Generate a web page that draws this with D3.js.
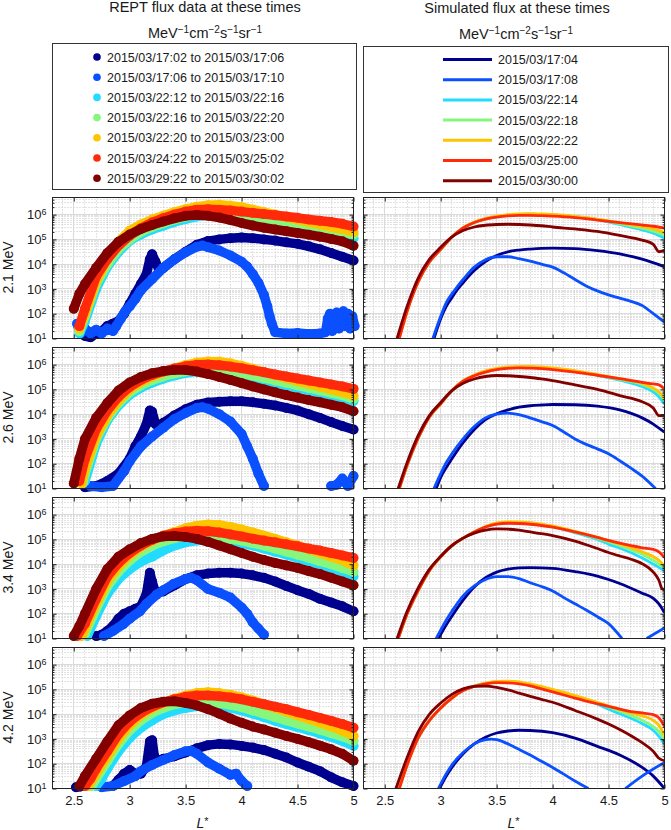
<!DOCTYPE html>
<html><head><meta charset="utf-8">
<script src="https://cdn.jsdelivr.net/npm/d3@7"></script>
<style>body{margin:0;background:#fff} text{font-family:"Liberation Sans",Arial,Helvetica,sans-serif;fill:#1a1a1a}</style>
</head><body><svg id="c" width="671" height="830"></svg>
<script>
// ---------------- data ----------------
const energies = ["2.1 MeV","2.6 MeV","3.4 MeV","4.2 MeV"];
const reptTimes = ["2015/03/17:02 to 2015/03/17:06","2015/03/17:06 to 2015/03/17:10","2015/03/22:12 to 2015/03/22:16",
  "2015/03/22:16 to 2015/03/22:20","2015/03/22:20 to 2015/03/23:00","2015/03/24:22 to 2015/03/25:02","2015/03/29:22 to 2015/03/30:02"];
const simTimes = ["2015/03/17:04","2015/03/17:08","2015/03/22:14","2015/03/22:18","2015/03/22:22","2015/03/25:00","2015/03/30:00"];
const seriesColors = ["#00008f","#0a50ff","#22dcff","#86f77c","#ffc400","#ff2a0a","#820000"];
const xTicks = [2.5,3,3.5,4,4.5,5];
const yTickExps = [1,2,3,4,5,6];

// REPT flux, [L*, log10 flux]; order: dark blue, blue, cyan, green, yellow, red, dark red
const rept21 = [
 [[2.6,1.1],[2.65,1.05],[2.7,1.2],[2.75,1.3],[2.8,1.5],[2.85,1.6],[2.9,1.7],[2.95,2.0],[3.0,2.4],[3.05,2.8],[3.1,3.2],[3.15,3.6],[3.18,4.2],[3.2,4.4],[3.23,4.1],[3.26,3.8],[3.3,3.85],[3.4,4.2],[3.5,4.5],[3.6,4.78],[3.7,4.93],[3.8,5.0],[3.9,5.05],[4.0,5.08],[4.1,5.05],[4.2,5.0],[4.3,4.95],[4.4,4.88],[4.5,4.82],[4.6,4.72],[4.7,4.6],[4.8,4.45],[4.9,4.3],[5.0,4.15]],
 [[2.53,1.6],[2.56,1.2],[2.6,1.4],[2.65,1.2],[2.7,1.35],[2.75,1.2],[2.8,1.4],[2.85,1.3],[2.88,1.5],[2.92,1.8],[2.96,2.1],[3.0,2.3],[3.05,2.6],[3.1,2.95],[3.2,3.4],[3.3,3.85],[3.4,4.2],[3.5,4.48],[3.6,4.7],[3.65,4.75],[3.7,4.68],[3.8,4.55],[3.9,4.35],[4.0,4.1],[4.05,3.9],[4.1,3.6],[4.15,3.25],[4.2,2.75],[4.23,2.3],[4.25,1.9],[4.27,1.6],[4.3,1.25],[4.4,1.2],[4.5,1.22],[4.6,1.18],[4.7,1.2],[4.75,1.25],[4.77,1.8],[4.79,2.0],[4.81,1.3],[4.83,1.9],[4.85,2.05],[4.87,1.4],[4.89,1.9],[4.91,2.1],[4.93,1.5],[4.95,2.0],[4.97,1.4],[4.99,1.9],[5.01,1.5]],
 [[2.55,1.2],[2.6,1.7],[2.7,3.0],[2.8,3.9],[2.9,4.5],[3.0,4.95],[3.1,5.2],[3.2,5.4],[3.3,5.55],[3.4,5.7],[3.5,5.82],[3.6,5.92],[3.7,5.98],[3.8,6.0],[3.9,5.97],[4.0,5.9],[4.1,5.82],[4.2,5.73],[4.3,5.63],[4.4,5.55],[4.5,5.47],[4.6,5.4],[4.7,5.33],[4.8,5.25],[4.9,5.17],[5.0,5.05]],
 [[2.55,1.3],[2.6,1.9],[2.7,3.2],[2.8,4.0],[2.9,4.6],[3.0,5.0],[3.1,5.3],[3.2,5.5],[3.3,5.65],[3.4,5.8],[3.5,5.92],[3.6,6.0],[3.7,6.05],[3.8,6.05],[3.9,6.0],[4.0,5.95],[4.1,5.9],[4.2,5.83],[4.3,5.75],[4.4,5.68],[4.5,5.6],[4.6,5.52],[4.7,5.45],[4.8,5.38],[4.9,5.3],[5.0,5.2]],
 [[2.55,1.4],[2.6,2.0],[2.7,3.3],[2.8,4.2],[2.9,4.9],[3.0,5.35],[3.1,5.6],[3.2,5.8],[3.3,5.95],[3.4,6.1],[3.5,6.22],[3.6,6.32],[3.7,6.38],[3.8,6.4],[3.9,6.36],[4.0,6.3],[4.1,6.2],[4.2,6.1],[4.3,6.0],[4.4,5.9],[4.5,5.8],[4.6,5.7],[4.7,5.6],[4.8,5.5],[4.9,5.42],[5.0,5.3]],
 [[2.55,1.5],[2.6,2.2],[2.7,3.5],[2.8,4.2],[2.9,4.75],[3.0,5.15],[3.1,5.45],[3.2,5.68],[3.3,5.85],[3.4,6.0],[3.5,6.12],[3.6,6.2],[3.7,6.22],[3.8,6.2],[3.9,6.17],[4.0,6.12],[4.1,6.07],[4.2,6.02],[4.3,5.97],[4.4,5.92],[4.5,5.87],[4.6,5.8],[4.7,5.75],[4.8,5.7],[4.9,5.63],[5.0,5.52]],
 [[2.5,2.2],[2.55,2.8],[2.6,3.2],[2.7,3.85],[2.8,4.45],[2.9,4.9],[3.0,5.2],[3.1,5.42],[3.2,5.58],[3.3,5.72],[3.4,5.85],[3.5,5.95],[3.6,5.98],[3.7,5.95],[3.8,5.88],[3.9,5.78],[4.0,5.66],[4.1,5.56],[4.2,5.47],[4.3,5.4],[4.4,5.33],[4.5,5.26],[4.6,5.19],[4.7,5.11],[4.8,5.02],[4.9,4.92],[5.0,4.74]]
];
const rept26 = [
 [[2.6,1.05],[2.7,1.1],[2.8,1.3],[2.9,1.6],[3.0,2.2],[3.05,2.7],[3.1,3.1],[3.15,3.6],[3.18,4.15],[3.2,4.1],[3.23,3.6],[3.26,3.5],[3.3,3.65],[3.4,3.95],[3.5,4.2],[3.6,4.38],[3.7,4.47],[3.8,4.5],[3.9,4.52],[4.0,4.52],[4.1,4.48],[4.2,4.42],[4.3,4.35],[4.4,4.25],[4.5,4.15],[4.6,4.0],[4.7,3.85],[4.8,3.68],[4.9,3.52],[5.0,3.38]],
 [[2.65,1.1],[2.75,1.05],[2.85,1.1],[2.95,1.7],[3.0,2.1],[3.1,2.7],[3.2,3.1],[3.3,3.45],[3.4,3.8],[3.5,4.05],[3.6,4.25],[3.65,4.28],[3.7,4.22],[3.8,4.0],[3.9,3.7],[4.0,3.2],[4.05,2.7],[4.1,2.2],[4.15,1.6],[4.2,1.1],null,[4.8,1.1],[4.85,1.15],[4.9,1.4],[4.95,1.1],[5.0,1.5]],
 [[2.6,1.3],[2.7,2.8],[2.8,3.75],[2.9,4.35],[3.0,4.78],[3.1,5.07],[3.2,5.27],[3.3,5.43],[3.4,5.56],[3.5,5.66],[3.6,5.72],[3.7,5.75],[3.8,5.72],[3.9,5.65],[4.0,5.57],[4.1,5.47],[4.2,5.37],[4.3,5.27],[4.4,5.17],[4.5,5.07],[4.6,4.97],[4.7,4.87],[4.8,4.77],[4.9,4.67],[5.0,4.53]],
 [[2.58,1.2],[2.6,1.6],[2.7,3.0],[2.8,3.85],[2.9,4.45],[3.0,4.88],[3.1,5.17],[3.2,5.37],[3.3,5.52],[3.4,5.64],[3.5,5.73],[3.6,5.79],[3.7,5.81],[3.8,5.79],[3.9,5.73],[4.0,5.65],[4.1,5.56],[4.2,5.46],[4.3,5.36],[4.4,5.26],[4.5,5.16],[4.6,5.06],[4.7,4.96],[4.8,4.86],[4.9,4.76],[5.0,4.62]],
 [[2.57,1.2],[2.6,1.8],[2.7,3.1],[2.8,3.95],[2.9,4.55],[3.0,5.0],[3.1,5.3],[3.2,5.52],[3.3,5.7],[3.4,5.85],[3.5,5.98],[3.6,6.08],[3.7,6.13],[3.8,6.12],[3.9,6.05],[4.0,5.95],[4.1,5.83],[4.2,5.7],[4.3,5.57],[4.4,5.45],[4.5,5.33],[4.6,5.22],[4.7,5.11],[4.8,5.0],[4.9,4.89],[5.0,4.75]],
 [[2.55,1.3],[2.6,2.2],[2.7,3.4],[2.8,4.15],[2.9,4.7],[3.0,5.1],[3.1,5.38],[3.2,5.58],[3.3,5.72],[3.4,5.84],[3.5,5.93],[3.6,5.99],[3.7,6.0],[3.8,5.97],[3.9,5.92],[4.0,5.85],[4.1,5.77],[4.2,5.69],[4.3,5.6],[4.4,5.52],[4.5,5.44],[4.6,5.36],[4.7,5.28],[4.8,5.2],[4.9,5.12],[5.0,5.02]],
 [[2.5,1.2],[2.55,2.2],[2.6,3.0],[2.7,3.85],[2.8,4.45],[2.9,4.95],[3.0,5.28],[3.1,5.5],[3.2,5.65],[3.3,5.74],[3.4,5.78],[3.5,5.78],[3.6,5.72],[3.7,5.62],[3.8,5.5],[3.9,5.38],[4.0,5.25],[4.1,5.12],[4.2,5.0],[4.3,4.88],[4.4,4.77],[4.5,4.67],[4.6,4.57],[4.7,4.48],[4.8,4.38],[4.9,4.28],[5.0,4.12]]
];
const rept34 = [
 [[2.7,1.1],[2.75,1.15],[2.8,1.3],[2.85,1.5],[2.9,1.8],[2.95,2.0],[3.0,2.1],[3.05,2.2],[3.1,2.3],[3.15,2.8],[3.18,3.65],[3.2,3.3],[3.23,2.85],[3.3,2.9],[3.4,3.15],[3.5,3.4],[3.6,3.55],[3.7,3.62],[3.8,3.65],[3.9,3.65],[4.0,3.62],[4.1,3.55],[4.2,3.45],[4.3,3.3],[4.4,3.12],[4.5,2.95],[4.6,2.8],[4.7,2.6],[4.8,2.45],[4.9,2.3],[5.0,2.1]],
 [[2.77,1.1],[2.85,1.3],[2.94,1.57],[3.0,1.8],[3.09,2.09],[3.15,2.4],[3.24,2.77],[3.3,2.95],[3.39,3.2],[3.5,3.4],[3.55,3.45],[3.6,3.35],[3.7,3.0],[3.8,2.85],[3.9,2.65],[4.0,2.25],[4.05,2.0],[4.1,1.65],[4.15,1.4],[4.2,1.15]],
 [[2.62,1.1],[2.7,1.9],[2.8,2.8],[2.9,3.4],[3.0,3.8],[3.1,4.1],[3.2,4.3],[3.3,4.55],[3.4,4.75],[3.5,4.88],[3.6,4.95],[3.7,4.98],[3.8,4.97],[3.9,4.92],[4.0,4.85],[4.1,4.75],[4.2,4.63],[4.3,4.5],[4.4,4.38],[4.5,4.25],[4.6,4.12],[4.7,4.0],[4.8,3.85],[4.9,3.7],[5.0,3.5]],
 [[2.6,1.2],[2.7,2.2],[2.8,3.1],[2.9,3.7],[3.0,4.15],[3.1,4.5],[3.2,4.75],[3.3,4.92],[3.4,5.05],[3.5,5.12],[3.6,5.15],[3.7,5.15],[3.8,5.1],[3.9,5.02],[4.0,4.95],[4.1,4.85],[4.2,4.75],[4.3,4.62],[4.4,4.5],[4.5,4.38],[4.6,4.26],[4.7,4.12],[4.8,4.0],[4.9,3.85],[5.0,3.7]],
 [[2.57,1.1],[2.6,1.4],[2.7,2.4],[2.8,3.3],[2.9,3.9],[3.0,4.35],[3.1,4.7],[3.2,4.95],[3.3,5.15],[3.4,5.3],[3.5,5.45],[3.6,5.55],[3.7,5.6],[3.8,5.58],[3.9,5.5],[4.0,5.4],[4.1,5.28],[4.2,5.15],[4.3,5.02],[4.4,4.88],[4.5,4.75],[4.6,4.6],[4.7,4.45],[4.8,4.3],[4.9,4.15],[5.0,3.95]],
 [[2.53,1.1],[2.6,1.6],[2.7,2.6],[2.8,3.5],[2.9,4.05],[3.0,4.45],[3.1,4.75],[3.2,4.98],[3.3,5.15],[3.4,5.25],[3.5,5.32],[3.6,5.35],[3.7,5.33],[3.8,5.28],[3.9,5.2],[4.0,5.12],[4.1,5.03],[4.2,4.95],[4.3,4.88],[4.4,4.8],[4.5,4.72],[4.6,4.63],[4.7,4.55],[4.8,4.45],[4.9,4.35],[5.0,4.25]],
 [[2.5,1.1],[2.55,1.5],[2.6,2.0],[2.7,3.0],[2.8,3.8],[2.9,4.3],[3.0,4.6],[3.1,4.85],[3.2,5.02],[3.3,5.12],[3.4,5.14],[3.5,5.1],[3.6,5.02],[3.7,4.9],[3.8,4.75],[3.9,4.6],[4.0,4.45],[4.1,4.3],[4.2,4.17],[4.3,4.05],[4.4,3.95],[4.5,3.85],[4.6,3.72],[4.7,3.6],[4.8,3.45],[4.9,3.3],[5.0,3.15]]
];
const rept42 = [
 [[2.52,1.05],[2.56,1.08],null,[2.85,1.1],[2.9,1.35],[2.95,1.6],[3.0,1.75],[3.05,1.6],[3.1,1.6],[3.15,1.9],[3.18,2.9],[3.2,2.95],[3.22,2.3],[3.25,2.1],[3.3,2.2],[3.4,2.3],[3.5,2.45],[3.6,2.62],[3.7,2.75],[3.8,2.8],[3.9,2.78],[4.0,2.72],[4.1,2.65],[4.2,2.55],[4.3,2.4],[4.4,2.25],[4.5,2.05],[4.6,1.88],[4.7,1.7],[4.8,1.45],[4.9,1.25],[5.0,1.1]],
 [[2.75,1.05],[2.85,1.1],[2.95,1.3],[3.05,1.5],[3.1,1.7],[3.2,1.95],[3.3,2.15],[3.4,2.35],[3.5,2.5],[3.55,2.52],[3.6,2.4],[3.7,2.05],[3.8,1.8],[3.9,1.55],[3.95,1.6],[4.0,1.3],[4.05,1.1]],
 [[2.7,1.1],[2.75,1.4],[2.8,1.8],[2.9,2.5],[3.0,3.05],[3.1,3.45],[3.2,3.75],[3.3,4.0],[3.4,4.15],[3.5,4.25],[3.6,4.32],[3.7,4.35],[3.8,4.32],[3.9,4.25],[4.0,4.15],[4.1,4.02],[4.2,3.88],[4.3,3.73],[4.4,3.6],[4.5,3.47],[4.6,3.35],[4.7,3.22],[4.8,3.08],[4.9,2.92],[5.0,2.72]],
 [[2.66,1.1],[2.7,1.4],[2.8,2.1],[2.9,2.8],[3.0,3.35],[3.1,3.75],[3.2,4.05],[3.3,4.25],[3.4,4.4],[3.5,4.48],[3.6,4.5],[3.7,4.5],[3.8,4.45],[3.9,4.38],[4.0,4.28],[4.1,4.15],[4.2,4.02],[4.3,3.88],[4.4,3.75],[4.5,3.62],[4.6,3.5],[4.7,3.37],[4.8,3.23],[4.9,3.1],[5.0,2.92]],
 [[2.63,1.1],[2.7,1.6],[2.8,2.3],[2.9,3.0],[3.0,3.55],[3.1,3.95],[3.2,4.25],[3.3,4.45],[3.4,4.62],[3.5,4.75],[3.6,4.85],[3.7,4.88],[3.8,4.85],[3.9,4.78],[4.0,4.68],[4.1,4.55],[4.2,4.4],[4.3,4.25],[4.4,4.1],[4.5,3.95],[4.6,3.8],[4.7,3.65],[4.8,3.5],[4.9,3.33],[5.0,3.12]],
 [[2.6,1.1],[2.65,1.4],[2.7,1.8],[2.8,2.5],[2.9,3.2],[3.0,3.7],[3.1,4.05],[3.2,4.3],[3.3,4.48],[3.4,4.6],[3.5,4.7],[3.6,4.75],[3.7,4.75],[3.8,4.72],[3.9,4.67],[4.0,4.6],[4.1,4.5],[4.2,4.4],[4.3,4.3],[4.4,4.2],[4.5,4.08],[4.6,3.97],[4.7,3.85],[4.8,3.73],[4.9,3.6],[5.0,3.45]],
 [[2.55,1.1],[2.6,1.5],[2.7,2.2],[2.8,2.9],[2.9,3.55],[3.0,3.95],[3.1,4.25],[3.2,4.42],[3.3,4.5],[3.4,4.52],[3.5,4.45],[3.6,4.35],[3.7,4.2],[3.8,4.02],[3.9,3.82],[4.0,3.65],[4.1,3.5],[4.2,3.38],[4.3,3.25],[4.4,3.12],[4.5,3.0],[4.6,2.87],[4.7,2.73],[4.8,2.58],[4.9,2.4],[5.0,2.12]]
];

// Simulated flux, [L*, log10 flux]
const sim21 = [
 [[2.94,1.0],[3.0,1.8],[3.05,2.3],[3.1,2.65],[3.15,2.98],[3.2,3.25],[3.3,3.74],[3.4,4.1],[3.5,4.35],[3.6,4.5],[3.7,4.57],[3.8,4.61],[3.9,4.64],[4.0,4.65],[4.2,4.63],[4.4,4.55],[4.6,4.42],[4.8,4.2],[5.0,3.9]],
 [[2.93,1.0],[3.0,1.9],[3.05,2.45],[3.1,2.8],[3.15,3.1],[3.2,3.38],[3.3,3.88],[3.4,4.18],[3.5,4.3],[3.6,4.3],[3.7,4.22],[3.8,4.12],[3.9,4.0],[4.0,3.88],[4.1,3.65],[4.2,3.38],[4.3,3.12],[4.4,2.92],[4.5,2.76],[4.6,2.63],[4.7,2.5],[4.8,2.33],[4.9,2.0],[5.0,1.66]],
 [[2.62,1.0],[2.7,2.15],[2.8,3.3],[2.9,4.1],[3.0,4.6],[3.1,5.1],[3.2,5.45],[3.3,5.68],[3.4,5.83],[3.5,5.92],[3.6,5.98],[3.7,6.01],[3.8,6.02],[3.9,6.01],[4.0,5.99],[4.2,5.92],[4.4,5.8],[4.6,5.6],[4.8,5.38],[4.9,5.25],[5.0,5.05]],
 [[2.62,1.0],[2.7,2.15],[2.8,3.3],[2.9,4.1],[3.0,4.6],[3.1,5.1],[3.2,5.45],[3.3,5.68],[3.4,5.83],[3.5,5.92],[3.6,5.98],[3.7,6.01],[3.8,6.02],[3.9,6.01],[4.0,5.99],[4.2,5.92],[4.4,5.81],[4.6,5.64],[4.8,5.45],[4.9,5.33],[5.0,5.17]],
 [[2.63,1.0],[2.7,2.1],[2.8,3.3],[2.9,4.1],[3.0,4.6],[3.1,5.1],[3.2,5.47],[3.3,5.7],[3.4,5.85],[3.5,5.94],[3.6,6.0],[3.7,6.03],[3.8,6.04],[3.9,6.03],[4.0,6.01],[4.2,5.93],[4.4,5.82],[4.6,5.68],[4.8,5.52],[4.9,5.42],[5.0,5.27]],
 [[2.63,1.0],[2.7,2.1],[2.8,3.3],[2.9,4.1],[3.0,4.6],[3.1,5.1],[3.2,5.46],[3.3,5.68],[3.4,5.82],[3.5,5.9],[3.6,5.95],[3.7,5.97],[3.8,5.97],[3.9,5.96],[4.0,5.94],[4.2,5.88],[4.4,5.78],[4.6,5.68],[4.8,5.58],[4.9,5.53],[5.0,5.45]],
 [[2.61,1.0],[2.7,2.3],[2.8,3.45],[2.9,4.2],[3.0,4.68],[3.1,5.1],[3.2,5.36],[3.3,5.5],[3.4,5.57],[3.5,5.6],[3.6,5.61],[3.7,5.6],[3.8,5.58],[3.9,5.55],[4.0,5.5],[4.2,5.42],[4.4,5.32],[4.6,5.16],[4.8,4.97],[4.9,4.8],[4.95,4.5],[5.0,4.55]]
];
const sim26 = [
 [[2.96,1.0],[3.0,1.45],[3.05,1.85],[3.1,2.2],[3.2,2.85],[3.3,3.38],[3.4,3.78],[3.5,4.02],[3.6,4.17],[3.7,4.28],[3.8,4.34],[3.9,4.37],[4.0,4.39],[4.2,4.38],[4.4,4.32],[4.6,4.17],[4.8,3.85],[4.9,3.6],[5.0,3.27]],
 [[2.94,1.0],[3.0,1.6],[3.05,2.05],[3.1,2.4],[3.2,3.0],[3.3,3.5],[3.4,3.85],[3.5,4.0],[3.6,4.04],[3.7,3.98],[3.8,3.85],[3.9,3.7],[4.0,3.54],[4.1,3.28],[4.2,3.0],[4.3,2.78],[4.4,2.6],[4.5,2.4],[4.6,2.12],[4.7,1.82],[4.8,1.5],[4.92,1.0]],
 [[2.63,1.0],[2.7,1.95],[2.8,3.05],[2.9,3.9],[3.0,4.42],[3.1,4.95],[3.2,5.33],[3.3,5.56],[3.4,5.72],[3.5,5.82],[3.6,5.88],[3.7,5.9],[3.8,5.9],[3.9,5.88],[4.0,5.84],[4.2,5.73],[4.4,5.57],[4.6,5.37],[4.8,5.12],[4.9,4.9],[4.95,4.7],[5.0,4.4]],
 [[2.63,1.0],[2.7,1.95],[2.8,3.05],[2.9,3.9],[3.0,4.42],[3.1,4.95],[3.2,5.33],[3.3,5.56],[3.4,5.72],[3.5,5.82],[3.6,5.88],[3.7,5.9],[3.8,5.9],[3.9,5.88],[4.0,5.84],[4.2,5.74],[4.4,5.58],[4.6,5.4],[4.8,5.2],[4.9,5.0],[4.95,4.85],[5.0,4.55]],
 [[2.63,1.0],[2.7,1.95],[2.8,3.05],[2.9,3.9],[3.0,4.42],[3.1,4.96],[3.2,5.35],[3.3,5.58],[3.4,5.75],[3.5,5.85],[3.6,5.91],[3.7,5.93],[3.8,5.93],[3.9,5.91],[4.0,5.87],[4.2,5.76],[4.4,5.6],[4.6,5.43],[4.8,5.25],[4.9,5.05],[4.95,4.9],[5.0,4.62]],
 [[2.63,1.0],[2.7,1.95],[2.8,3.05],[2.9,3.9],[3.0,4.42],[3.1,4.95],[3.2,5.33],[3.3,5.55],[3.4,5.7],[3.5,5.8],[3.6,5.85],[3.7,5.87],[3.8,5.86],[3.9,5.84],[4.0,5.8],[4.2,5.7],[4.4,5.57],[4.6,5.43],[4.8,5.28],[4.9,5.22],[4.95,5.18],[5.0,5.02]],
 [[2.62,1.0],[2.7,2.05],[2.8,3.15],[2.9,3.95],[3.0,4.47],[3.1,4.95],[3.2,5.25],[3.3,5.42],[3.4,5.52],[3.5,5.56],[3.6,5.55],[3.7,5.52],[3.8,5.48],[3.9,5.42],[4.0,5.35],[4.2,5.18],[4.4,5.0],[4.6,4.75],[4.8,4.5],[4.9,4.25],[4.95,3.94],[5.0,3.95]]
];
const sim34 = [
 [[2.98,1.0],[3.05,1.55],[3.1,1.9],[3.2,2.55],[3.3,3.08],[3.4,3.45],[3.5,3.68],[3.6,3.8],[3.7,3.85],[3.8,3.86],[4.0,3.83],[4.2,3.7],[4.4,3.52],[4.6,3.22],[4.8,2.83],[4.9,2.62],[4.95,2.4],[5.0,2.04]],
 [[2.96,1.0],[3.05,1.75],[3.1,2.1],[3.2,2.72],[3.3,3.12],[3.4,3.38],[3.5,3.5],[3.6,3.5],[3.7,3.42],[3.8,3.25],[3.9,3.1],[4.0,2.92],[4.1,2.65],[4.2,2.4],[4.3,2.15],[4.4,1.88],[4.5,1.6],[4.62,1.0],null,[4.84,1.0],[5.0,1.43]],
 [[2.62,1.0],[2.7,2.0],[2.8,2.95],[2.9,3.75],[3.0,4.3],[3.1,4.75],[3.2,5.05],[3.3,5.3],[3.4,5.5],[3.5,5.63],[3.6,5.68],[3.7,5.69],[3.8,5.66],[3.9,5.6],[4.0,5.52],[4.2,5.27],[4.4,5.0],[4.5,4.81],[4.6,4.65],[4.8,4.25],[4.9,4.0],[5.0,3.73]],
 [[2.62,1.0],[2.7,2.0],[2.8,2.95],[2.9,3.75],[3.0,4.3],[3.1,4.75],[3.2,5.05],[3.3,5.3],[3.4,5.5],[3.5,5.63],[3.6,5.68],[3.7,5.69],[3.8,5.66],[3.9,5.6],[4.0,5.52],[4.2,5.3],[4.4,5.05],[4.6,4.75],[4.8,4.4],[4.9,4.15],[5.0,3.85]],
 [[2.62,1.0],[2.7,2.0],[2.8,2.95],[2.9,3.75],[3.0,4.3],[3.1,4.75],[3.2,5.05],[3.3,5.3],[3.4,5.52],[3.5,5.67],[3.6,5.71],[3.7,5.71],[3.8,5.68],[3.9,5.62],[4.0,5.54],[4.2,5.32],[4.4,5.08],[4.5,4.95],[4.6,4.82],[4.8,4.5],[4.9,4.3],[4.95,4.15],[5.0,3.93]],
 [[2.62,1.0],[2.7,2.0],[2.8,2.95],[2.9,3.75],[3.0,4.3],[3.1,4.75],[3.2,5.05],[3.3,5.3],[3.4,5.5],[3.5,5.62],[3.6,5.65],[3.7,5.64],[3.8,5.61],[3.9,5.56],[4.0,5.49],[4.2,5.3],[4.4,5.08],[4.5,4.96],[4.6,4.85],[4.7,4.75],[4.8,4.66],[4.9,4.6],[4.95,4.5],[5.0,4.27]],
 [[2.61,1.0],[2.7,2.1],[2.8,3.05],[2.9,3.8],[3.0,4.32],[3.1,4.75],[3.2,5.05],[3.3,5.25],[3.4,5.37],[3.5,5.42],[3.6,5.41],[3.7,5.37],[3.8,5.3],[3.9,5.23],[4.0,5.15],[4.2,4.93],[4.4,4.63],[4.5,4.47],[4.6,4.33],[4.7,4.2],[4.8,4.02],[4.9,3.68],[4.95,3.35],[4.98,3.0],[5.0,2.99]]
];
const sim42 = [
 [[2.99,1.0],[3.05,1.5],[3.1,1.85],[3.2,2.4],[3.3,2.8],[3.4,3.07],[3.5,3.24],[3.6,3.32],[3.7,3.35],[3.8,3.34],[4.0,3.25],[4.2,3.03],[4.4,2.7],[4.6,2.35],[4.8,1.85],[4.9,1.5],[5.0,1.0]],
 [[2.98,1.0],[3.05,1.6],[3.1,1.95],[3.2,2.45],[3.3,2.8],[3.4,2.97],[3.45,2.99],[3.5,2.97],[3.6,2.8],[3.7,2.58],[3.8,2.35],[3.9,2.1],[4.0,1.85],[4.1,1.58],[4.2,1.3],[4.32,1.0],null,[4.65,1.0],[4.8,1.5],[5.0,2.05]],
 [[2.62,1.0],[2.7,2.0],[2.8,3.05],[2.9,3.75],[3.0,4.25],[3.1,4.65],[3.2,4.95],[3.3,5.13],[3.4,5.24],[3.5,5.3],[3.6,5.31],[3.7,5.27],[3.8,5.19],[3.9,5.09],[4.0,4.97],[4.2,4.7],[4.4,4.4],[4.5,4.2],[4.6,4.02],[4.8,3.62],[4.9,3.35],[4.95,3.1],[5.0,2.8]],
 [[2.62,1.0],[2.7,2.0],[2.8,3.05],[2.9,3.75],[3.0,4.25],[3.1,4.65],[3.2,4.95],[3.3,5.13],[3.4,5.24],[3.5,5.3],[3.6,5.31],[3.7,5.27],[3.8,5.19],[3.9,5.09],[4.0,4.97],[4.2,4.72],[4.4,4.45],[4.6,4.12],[4.8,3.75],[4.9,3.5],[4.95,3.3],[5.0,2.98]],
 [[2.63,1.0],[2.7,1.95],[2.8,3.05],[2.9,3.75],[3.0,4.25],[3.1,4.65],[3.2,4.95],[3.3,5.13],[3.4,5.25],[3.5,5.32],[3.6,5.33],[3.7,5.3],[3.8,5.22],[3.9,5.12],[4.0,5.0],[4.2,4.75],[4.4,4.48],[4.5,4.33],[4.6,4.2],[4.7,4.05],[4.8,3.93],[4.9,3.75],[4.95,3.55],[5.0,3.15]],
 [[2.63,1.0],[2.7,1.95],[2.8,3.05],[2.9,3.75],[3.0,4.25],[3.1,4.65],[3.2,4.95],[3.3,5.12],[3.4,5.22],[3.5,5.27],[3.6,5.26],[3.7,5.22],[3.8,5.14],[3.9,5.02],[4.0,4.9],[4.2,4.65],[4.4,4.42],[4.6,4.2],[4.7,4.1],[4.8,4.05],[4.9,3.98],[4.95,3.85],[5.0,3.5]],
 [[2.6,1.0],[2.7,2.25],[2.8,3.3],[2.9,4.0],[3.0,4.45],[3.1,4.8],[3.2,5.02],[3.3,5.12],[3.4,5.13],[3.5,5.08],[3.6,4.98],[3.7,4.85],[3.8,4.72],[3.9,4.6],[4.0,4.48],[4.2,4.15],[4.4,3.8],[4.5,3.6],[4.6,3.38],[4.7,3.13],[4.8,2.85],[4.9,2.5],[4.95,2.22],[5.0,2.12]]
];

// ---------------- layout ----------------
const rept = [rept21, rept26, rept34, rept42];
const sim = [sim21, sim26, sim34, sim42];
const colX = [52, 363], PW = 301, PH = 141;
const rowTop = [197, 347, 497, 647];
const svg = d3.select("#c");
const x = d3.scaleLinear().domain([2.31, 5.0]).range([0, PW]);
const y = d3.scaleLog().domain([10, Math.pow(10, 6.69)]).range([PH, 0]);
const p10 = e => Math.pow(10, e);
const yMajor = yTickExps.map(p10);
const yMinor = [];
yTickExps.forEach(k => { for (let m = 2; m <= 9; m++) { const v = m * p10(k); if (v <= y.domain()[1]) yMinor.push(v); } });
const xMinor = d3.range(24, 51).map(i => i / 10).filter(v => v > 2.31 && !xTicks.some(t => Math.abs(t - v) < 1e-6));

const lineLeft = d3.line().defined(d => d != null).x(d => x(d[0])).y(d => y(p10(d[1])));
const lineRight = d3.line().defined(d => d != null).x(d => x(d[0])).y(d => y(p10(d[1]))).curve(d3.curveMonotoneX);

svg.append("defs").append("clipPath").attr("id", "clipP").append("rect").attr("width", PW).attr("height", PH);

rowTop.forEach((top, r) => {
  [0, 1].forEach(c => {
    const g = svg.append("g").attr("transform", `translate(${colX[c] + 0.5},${top + 0.5})`);
    g.append("rect").attr("width", PW).attr("height", PH).attr("fill", "#fff");
    g.selectAll(".mx").data(xMinor).join("line").attr("x1", d => Math.round(x(d))).attr("x2", d => Math.round(x(d)))
      .attr("y1", 0).attr("y2", PH).attr("stroke", "#c4c4c4").attr("stroke-dasharray", "1,2");
    g.selectAll(".my").data(yMinor).join("line").attr("y1", d => Math.round(y(d))).attr("y2", d => Math.round(y(d)))
      .attr("x1", 0).attr("x2", PW).attr("stroke", "#c4c4c4").attr("stroke-dasharray", "1,2");
    g.selectAll(".gx").data(xTicks).join("line").attr("x1", d => Math.round(x(d))).attr("x2", d => Math.round(x(d)))
      .attr("y1", 0).attr("y2", PH).attr("stroke", "#dadada");
    g.selectAll(".gy").data(yMajor).join("line").attr("y1", d => Math.round(y(d))).attr("y2", d => Math.round(y(d)))
      .attr("x1", 0).attr("x2", PW).attr("stroke", "#dadada");

    if (c === 0) {
      rept[r].forEach((s, i) => {
        const sg = g.append("g");
        sg.append("path").datum(s).attr("d", lineLeft).attr("fill", "none").attr("stroke", seriesColors[i])
          .attr("stroke-width", 9.5).attr("stroke-linejoin", "round").attr("stroke-linecap", "round");
        sg.selectAll("circle").data(s.filter(d => d)).join("circle").attr("cx", d => x(d[0])).attr("cy", d => y(p10(d[1])))
          .attr("r", 5).attr("fill", seriesColors[i]);
      });
    } else {
      const lg = g.append("g").attr("clip-path", "url(#clipP)");
      sim[r].forEach((s, i) => {
        lg.append("path").datum(s).attr("d", lineRight).attr("fill", "none").attr("stroke", seriesColors[i])
          .attr("stroke-width", 2.8).attr("stroke-linejoin", "round");
      });
    }
    const axB = d3.axisBottom(x).tickValues(xTicks).tickSize(-4).tickPadding(7).tickFormat(r === 3 ? d => d : "");
    const axT = d3.axisTop(x).tickValues(xTicks).tickSize(-4).tickFormat("");
    const axL = d3.axisLeft(y).tickValues(yMajor).tickSize(-4).tickFormat("");
    const axR = d3.axisRight(y).tickValues(yMajor).tickSize(-4).tickFormat("");
    const axLm = d3.axisLeft(y).tickValues(yMinor).tickSize(-2).tickFormat("");
    const axRm = d3.axisRight(y).tickValues(yMinor).tickSize(-2).tickFormat("");
    [[axB, `translate(0,${PH})`], [axT, null], [axL, null], [axR, `translate(${PW},0)`], [axLm, null], [axRm, `translate(${PW},0)`]]
      .forEach(([ax, tr]) => {
        const a = g.append("g").call(ax);
        if (tr) a.attr("transform", tr);
        a.select(".domain").remove();
        a.selectAll("line").attr("stroke", "#222");
        a.selectAll("text").attr("font-size", 13).attr("font-family", "Liberation Sans, Arial, sans-serif").attr("fill", "#1a1a1a");
      });
    g.append("rect").attr("width", PW).attr("height", PH).attr("fill", "none").attr("stroke", "#222");

    if (c === 0) {
      yTickExps.forEach(k => {
        const t = g.append("text").attr("x", -6).attr("y", y(p10(k))).attr("dy", "0.36em").attr("text-anchor", "end").attr("font-size", 13);
        t.append("tspan").text("10");
        t.append("tspan").attr("dy", "-0.45em").attr("font-size", 9).text(k);
      });
      svg.append("text").attr("transform", `translate(13,${top + PH / 2}) rotate(-90)`).attr("text-anchor", "middle")
        .attr("font-size", 14).text(energies[r]);
    }
    if (r === 3) {
      const t = svg.append("text").attr("x", colX[c] + PW / 2).attr("y", 828).attr("text-anchor", "middle").attr("font-size", 14);
      t.append("tspan").attr("font-style", "italic").text("L");
      t.append("tspan").attr("dy", "-0.3em").attr("font-size", 11).text("*");
    }
  });
});

// titles and units
function units(cx, yb) {
  const t = svg.append("text").attr("x", cx).attr("y", yb).attr("text-anchor", "middle").attr("font-size", 14.5);
  [["MeV", "−1"], ["cm", "−2"], ["s", "−1"], ["sr", "−1"]].forEach(([b, e], i) => {
    t.append("tspan").attr("dy", i === 0 ? 0 : 5.5).text(b);
    t.append("tspan").attr("dy", -5.5).attr("font-size", 10).text(e);
  });
}
svg.append("text").attr("x", 205).attr("y", 12).attr("text-anchor", "middle").attr("font-size", 14.5).text("REPT flux data at these times");
svg.append("text").attr("x", 517).attr("y", 13).attr("text-anchor", "middle").attr("font-size", 14.5).text("Simulated flux at these times");
units(205, 38);
units(516, 39);

// legends
svg.append("rect").attr("x", 52.5).attr("y", 43.5).attr("width", 304).attr("height", 146).attr("fill", "#fff").attr("stroke", "#333");
svg.append("rect").attr("x", 363.5).attr("y", 46.5).attr("width", 305).attr("height", 146).attr("fill", "#fff").attr("stroke", "#333");
const legL = svg.append("g");
reptTimes.forEach((t, i) => {
  const yy = 57 + i * 20.2;
  legL.append("circle").attr("cx", 97).attr("cy", yy).attr("r", 3.8).attr("fill", seriesColors[i]);
  legL.append("text").attr("x", 107).attr("y", yy).attr("dy", "0.36em").attr("font-size", 12.5).text(t);
});
const legR = svg.append("g");
simTimes.forEach((t, i) => {
  const yy = 59.5 + i * 20.2;
  legR.append("line").attr("x1", 443).attr("x2", 492).attr("y1", yy).attr("y2", yy).attr("stroke", seriesColors[i]).attr("stroke-width", 3);
  legR.append("text").attr("x", 498).attr("y", yy).attr("dy", "0.36em").attr("font-size", 12.5).text(t);
});
</script>
</body></html>
